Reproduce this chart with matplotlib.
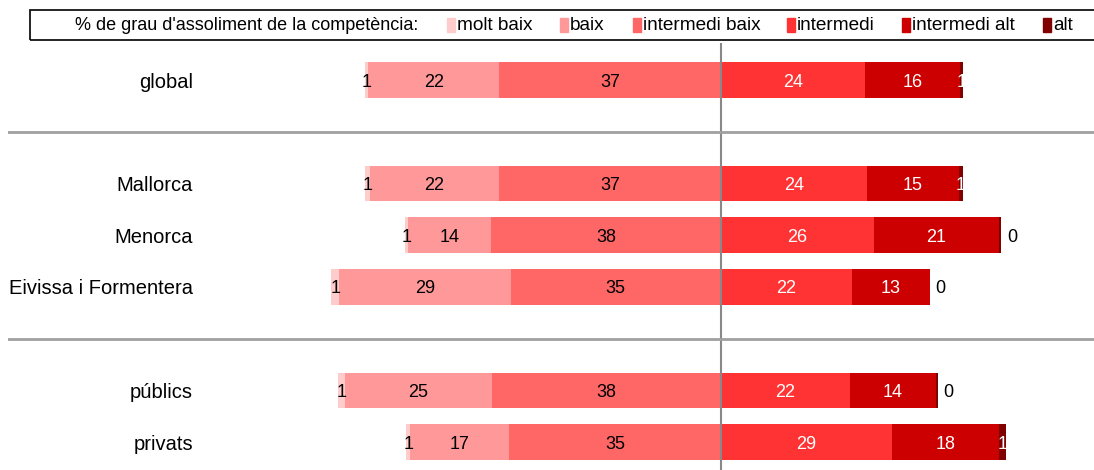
import matplotlib
matplotlib.use("Agg")
import matplotlib.pyplot as plt
from matplotlib.patches import Rectangle

plt.rcParams["font.family"] = ["Liberation Sans", "DejaVu Sans"]

# ───────── DATA ───────── #
categories = ["global", "Mallorca", "Menorca", "Eivissa i Formentera", "públics", "privats"]
y_pos = [0, 2, 3, 4, 6, 7]     # gaps between groups

molt_baix = [0.6, 0.8, 0.6, 1.4, 1.2, 0.6]
baix = [21.9, 21.6, 13.9, 28.6, 24.6, 16.6]
intermedi_baix = [37.1, 37.1, 38.4, 35.2, 38.3, 35.4]
intermedi = [24.1, 24.4, 25.6, 21.9, 21.6, 28.6]
intermedi_alt = [15.8, 15.4, 20.9, 13.0, 14.3, 17.9]
alt = [0.6, 0.6, 0.4, 0.0, 0.4, 1.2]

level_names = ["molt baix", "baix", "intermedi baix", "intermedi", "intermedi alt", "alt"]
colors = ["#FFCCCC", "#FF9999", "#FF6666", "#FF3333", "#CC0000", "#800000"]
legend_title = "% de grau d'assoliment de la competència:"
# ──────────────────────── #

W, H = 1094, 470
fig = plt.figure(figsize=(W / 100, H / 100), dpi=100)
ax = fig.add_axes([8 / W, 0, (W - 8) / W, (H - 43) / H])

bh = 0.69
num_size = 13

# left side (negative), stacked outward from the centre
left_ib = [-v for v in intermedi_baix]
left_b = [a - b for a, b in zip(left_ib, baix)]
left_mb = [a - b for a, b in zip(left_b, molt_baix)]

c_ib = ax.barh(y_pos, intermedi_baix, left=left_ib, height=bh, color=colors[2])
c_b = ax.barh(y_pos, baix, left=left_b, height=bh, color=colors[1])
c_mb = ax.barh(y_pos, molt_baix, left=left_mb, height=bh, color=colors[0])

# right side
left_ia = intermedi[:]
left_alt = [a + b for a, b in zip(intermedi, intermedi_alt)]
c_i = ax.barh(y_pos, intermedi, left=0, height=bh, color=colors[3])
c_ia = ax.barh(y_pos, intermedi_alt, left=left_ia, height=bh, color=colors[4])
c_alt = ax.barh(y_pos, alt, left=left_alt, height=bh, color=colors[5])

labels = []
for cont, vals in [(c_mb, molt_baix), (c_b, baix), (c_ib, intermedi_baix)]:
    labels += ax.bar_label(cont, labels=[f"{v:.0f}" for v in vals], label_type="center",
                           color="black", fontsize=num_size)
for cont, vals in [(c_i, intermedi), (c_ia, intermedi_alt)]:
    labels += ax.bar_label(cont, labels=[f"{v:.0f}" for v in vals], label_type="center",
                           color="white", fontsize=num_size)
labels += ax.bar_label(c_alt, labels=[f"{v:.0f}" if round(v) > 0 else "" for v in alt],
                       label_type="center", color="white", fontsize=num_size)
labels += ax.bar_label(c_alt, labels=["0" if round(v) == 0 else "" for v in alt],
                       label_type="edge", padding=4, color="black", fontsize=num_size)
for t in labels:
    t.set_va("center_baseline")

# centre line and group separators
ax.axvline(0, color="#888888", lw=1.5)
for ys in [1, 5]:
    ax.axhline(ys, color="#a0a0a0", lw=2)

ax.set_xlim(-713 / 5.98, 373 / 5.98)
ax.set_ylim(7.54, -0.716)
ax.set_yticks(y_pos)
ax.set_yticklabels(categories, fontsize=14.5)
ax.tick_params(axis="y", length=0, pad=-185 * 0.72)
ax.set_xticks([])
for s in ax.spines.values():
    s.set_visible(False)

# legend strip across the top
fig.patches.append(Rectangle((30 / W, 1 - 40 / H), (W - 29) / W, 30 / H,
                             transform=fig.transFigure, fill=False,
                             edgecolor="black", lw=1.2))
fig.text(75 / W, 1 - 25 / H, legend_title, fontsize=13, va="center", ha="left")
sq_x = [447, 560, 633, 787, 902, 1043]
for name, col, x in zip(level_names, colors, sq_x):
    fig.patches.append(Rectangle((x / W, 1 - 32 / H), 8 / W, 14 / H,
                                 transform=fig.transFigure, color=col))
    fig.text((x + 10) / W, 1 - 25 / H, name, fontsize=13.7, va="center", ha="left")

fig.savefig("out.png", dpi=100)
